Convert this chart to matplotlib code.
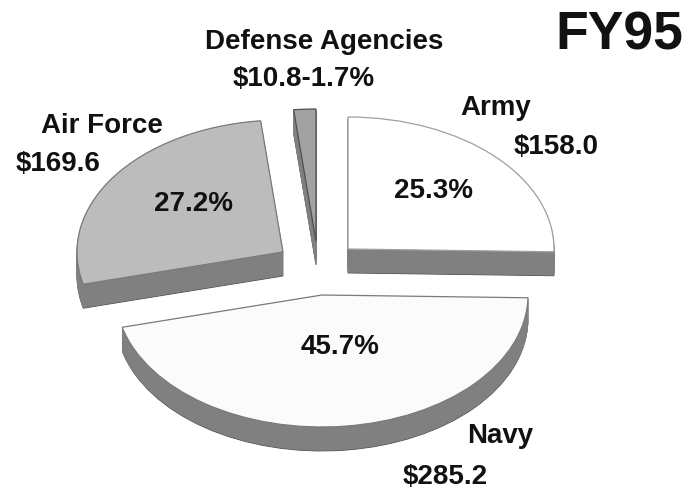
import matplotlib
matplotlib.use("Agg")
import matplotlib.pyplot as plt
from matplotlib.patches import Wedge
from matplotlib.transforms import Affine2D

# FY95 budget, $ billions
services = ["Army", "Navy", "Air Force", "Defense Agencies"]
budget = [158.0, 285.2, 169.6, 10.8]
percent_labels = ["25.3%", "45.7%", "27.2%", "1.7%"]
amount_labels = ["$158.0", "$285.2", "$169.6", "$10.8"]
chart_title = "FY95"

W, H = 691, 492
RX, RY = 206, 132   # ellipse radii
DEPTH = 24
SIDE = "#808080"
EDGE = "#505050"

# apex of each exploded slice, in image pixels
apex = [(348, 249), (322, 295), (283, 252), (316, 241)]
top_colors = ["#ffffff", "#fbfbfb", "#bcbcbc", "#a2a2a2"]
edge_colors = ["#a0a0a0", "#7a7a7a", "#7a7a7a", "#505050"]

plt.rcParams["font.family"] = ["Liberation Sans", "DejaVu Sans"]
plt.rcParams["font.weight"] = "bold"

fig = plt.figure(figsize=(W / 100, H / 100), dpi=100)
ax = fig.add_axes([0, 0, 1, 1])
ax.set_xlim(0, W)
ax.set_ylim(H, 0)
ax.axis("off")


def slice_transform(cx, cy):
    # y axis is inverted, so flip the unit circle to keep angles counterclockwise
    return Affine2D().scale(RX, -RY).translate(cx, cy) + ax.transData


total = sum(budget)
start = 90.0
for i, value in enumerate(budget):
    sweep = value / total * 360
    t1, t2 = start - sweep, start
    start = t1
    cx, cy = apex[i]
    # side of the slice: same shape stacked downwards
    for d in range(DEPTH, 0, -1):
        ax.add_patch(Wedge((0, 0), 1, t1, t2, transform=slice_transform(cx, cy + d),
                           facecolor=SIDE, edgecolor=EDGE if d == DEPTH else SIDE, lw=0.6))
    ax.add_patch(Wedge((0, 0), 1, t1, t2, transform=slice_transform(cx, cy),
                       facecolor=top_colors[i], edgecolor=edge_colors[i], lw=0.9))

ax.text(619, 36, chart_title, fontsize=38.5, ha="center", va="center", color="#111111")

# labels: Army, Navy, Air Force, Defense Agencies
name_pos = [(496, 108), (500, 436), (102, 126), (324, 42)]
amount_pos = [(556, 147), (445, 477), (58, 164)]
pct_pos = [(434, 191), (340, 347), (194, 204)]
for i, name in enumerate(services):
    ax.text(*name_pos[i], name, fontsize=20, ha="center", va="center", color="#111111")
for i in range(3):
    ax.text(*amount_pos[i], amount_labels[i], fontsize=20, ha="center", va="center", color="#111111")
    ax.text(*pct_pos[i], percent_labels[i], fontsize=20, ha="center", va="center", color="#111111")
ax.text(304, 79, amount_labels[3] + "-" + percent_labels[3], fontsize=20,
        ha="center", va="center", color="#111111")

fig.savefig("out.png", dpi=100, facecolor="white")
